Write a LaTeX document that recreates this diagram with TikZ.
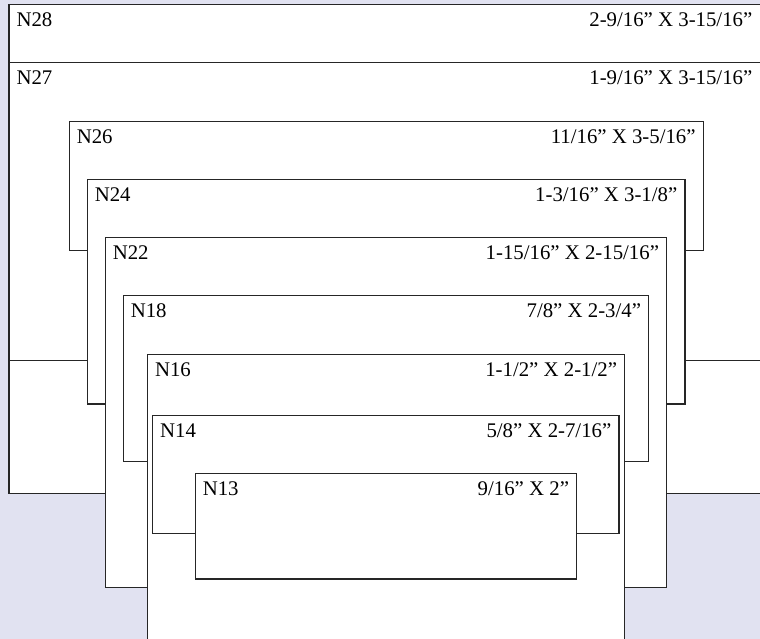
\documentclass[tikz,border=0pt]{standalone}
\usepackage{fontspec}
\setmainfont{Liberation Serif}
\usepackage{xcolor}
\definecolor{hintergrund}{RGB}{225,226,241}

\begin{document}
\begin{tikzpicture}[x=1pt,y=-1pt,
    kasten/.style={fill=white, draw=black!85, line width=1.4pt},
    nummer/.style={anchor=base west, inner sep=0pt, font=\fontsize{20.8}{24}\selectfont},
    mass/.style={anchor=base east, inner sep=0pt, font=\fontsize{20.8}{24}\selectfont}]

            % Rahmen und Hintergrund
            \useasboundingbox (0,0) rectangle (760,639);
            \clip (0,0) rectangle (760,639);
            \fill[hintergrund] (0,0) rectangle (760,639);

            % Kästen: Name/links/oben/rechts/unten/Maß
            \foreach \n/\l/\t/\r/\b/\m in {
                    N28/9/4.3/766/493.3/{2-9/16” X 3-15/16”},
                    N27/9/62.7/766/360.7/{1-9/16” X 3-15/16”},
                    N26/69.3/121.7/703.3/250.7/{11/16” X 3-5/16”},
                    N24/87.3/179.3/685/404/{1-3/16” X 3-1/8”},
                    N22/105.3/237.3/666.7/587.7/{1-15/16” X 2-15/16”},
                    N18/123.3/295.7/648.7/461.7/{7/8” X 2-3/4”},
                    N16/147.5/354.7/624.7/650/{1-1/2” X 2-1/2”},
                    N14/152.7/415.7/619/533.3/{5/8” X 2-7/16”},
                    N13/195.3/473.3/576.7/579/{9/16” X 2”}} {
                \draw[kasten] (\l,\t) rectangle (\r,\b);
                \node[nummer] (name\n) at (\l+7.3,\t+22) {\n};
                \node[mass] (mass\n) at ({min(\r,760)-7.5},\t+22) {\m};
            }
        \end{tikzpicture}
\end{document}
